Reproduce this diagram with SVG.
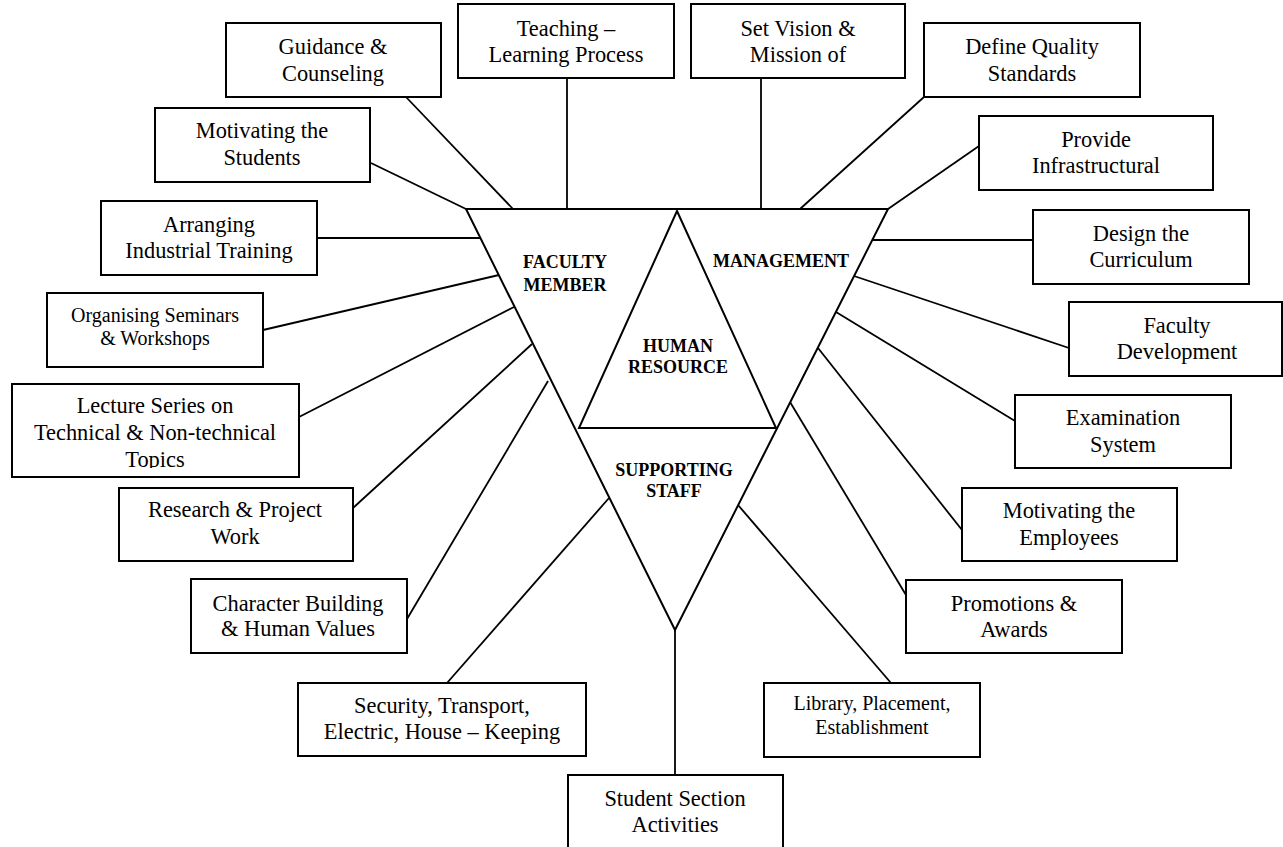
<svg xmlns="http://www.w3.org/2000/svg" width="1283" height="847" viewBox="0 0 1283 847">
<style>
.box{fill:#fff;stroke:#000;stroke-width:2}
.t{font-family:"Liberation Serif","Times New Roman",serif;font-size:22.4px;fill:#000;text-anchor:middle}
.s{font-size:20px}
.b{font-family:"Liberation Serif","Times New Roman",serif;font-size:18px;font-weight:bold;fill:#000;text-anchor:middle}
.ln{stroke:#000;stroke-width:1.8;fill:none}
.tri{fill:none;stroke:#000;stroke-width:2;stroke-linejoin:miter}
</style>
<defs><clipPath id="lc"><rect x="12" y="384" width="287" height="84"/></clipPath></defs>
<rect width="1283" height="847" fill="#fff"/>
<g id="connectors">
<line class="ln" x1="406" y1="97" x2="513" y2="209"/>
<line class="ln" x1="371" y1="163" x2="466" y2="209"/>
<line class="ln" x1="317" y1="238" x2="480" y2="238"/>
<line class="ln" x1="567" y1="78" x2="567" y2="209"/>
<line class="ln" x1="761" y1="77" x2="761" y2="209"/>
<line class="ln" x1="924" y1="97" x2="800" y2="209"/>
<line class="ln" x1="979" y1="146" x2="888" y2="209"/>
<line class="ln" x1="1033" y1="240" x2="872" y2="240"/>
<line class="ln" x1="1069" y1="348" x2="854" y2="276"/>
<line class="ln" x1="1015" y1="421" x2="836" y2="312"/>
<line class="ln" x1="962" y1="530" x2="818" y2="348"/>
<line class="ln" x1="906" y1="595" x2="790" y2="402"/>
<line class="ln" x1="891" y1="683" x2="738" y2="505"/>
<line class="ln" x1="675" y1="630" x2="675" y2="775"/>
<line class="ln" x1="447" y1="683" x2="609" y2="498"/>
<line class="ln" x1="407" y1="619" x2="548" y2="381"/>
<line class="ln" x1="353" y1="508" x2="532" y2="344"/>
<line class="ln" x1="299" y1="417" x2="514" y2="307"/>
<line class="ln" x1="263" y1="330" x2="499" y2="275"/>
</g>
<g id="hub">
<polygon class="tri" points="466,209 888,209 675,630"/>
<polygon class="tri" points="677,211 776,428 579,428"/>
<text class="b" x="565" y="268">FACULTY</text>
<text class="b" x="565" y="291">MEMBER</text>
<text class="b" x="781" y="267">MANAGEMENT</text>
<text class="b" x="678" y="352">HUMAN</text>
<text class="b" x="678" y="373">RESOURCE</text>
<text class="b" x="674" y="476">SUPPORTING</text>
<text class="b" x="674" y="497">STAFF</text>
</g>
<g id="guidance"><rect class="box" x="226" y="23" width="215" height="74"/><text class="t" x="333" y="54">Guidance &amp;</text><text class="t" x="333" y="81">Counseling</text></g>
<g id="motivating-students"><rect class="box" x="155" y="108" width="215" height="74"/><text class="t" x="262" y="138">Motivating the</text><text class="t" x="262" y="165">Students</text></g>
<g id="arranging"><rect class="box" x="101" y="201" width="216" height="74"/><text class="t" x="209" y="232">Arranging</text><text class="t" x="209" y="258">Industrial Training</text></g>
<g id="organising"><rect class="box" x="47" y="293" width="216" height="74"/><text class="t s" x="155" y="322">Organising Seminars</text><text class="t s" x="155" y="345">&amp; Workshops</text></g>
<g id="lecture"><rect class="box" x="12" y="384" width="287" height="93"/><text class="t" x="155" y="413">Lecture Series on</text><text class="t" x="155" y="440">Technical &amp; Non-technical</text><text class="t" x="155" y="467" clip-path="url(#lc)">Topics</text></g>
<g id="research"><rect class="box" x="119" y="488" width="234" height="73"/><text class="t" x="235" y="517">Research &amp; Project</text><text class="t" x="235" y="544">Work</text></g>
<g id="character"><rect class="box" x="191" y="579" width="216" height="74"/><text class="t" x="298" y="611">Character Building</text><text class="t" x="298" y="636">&amp; Human Values</text></g>
<g id="security"><rect class="box" x="298" y="683" width="288" height="73"/><text class="t" x="442" y="713">Security, Transport,</text><text class="t" x="442" y="739">Electric, House – Keeping</text></g>
<g id="student"><rect class="box" x="568" y="775" width="215" height="80"/><text class="t" x="675" y="806">Student Section</text><text class="t" x="675" y="832">Activities</text></g>
<g id="library"><rect class="box" x="764" y="683" width="216" height="74"/><text class="t s" x="872" y="710">Library, Placement,</text><text class="t s" x="872" y="734">Establishment</text></g>
<g id="teaching"><rect class="box" x="458" y="4" width="216" height="74"/><text class="t" x="566" y="36">Teaching –</text><text class="t" x="566" y="62">Learning Process</text></g>
<g id="vision"><rect class="box" x="691" y="4" width="214" height="74"/><text class="t" x="798" y="36">Set Vision &amp;</text><text class="t" x="798" y="62">Mission of</text></g>
<g id="quality"><rect class="box" x="924" y="23" width="216" height="74"/><text class="t" x="1032" y="54">Define Quality</text><text class="t" x="1032" y="81">Standards</text></g>
<g id="infrastructure"><rect class="box" x="979" y="116" width="234" height="74"/><text class="t" x="1096" y="147">Provide</text><text class="t" x="1096" y="173">Infrastructural</text></g>
<g id="curriculum"><rect class="box" x="1033" y="210" width="216" height="74"/><text class="t" x="1141" y="241">Design the</text><text class="t" x="1141" y="267">Curriculum</text></g>
<g id="faculty-dev"><rect class="box" x="1069" y="302" width="213" height="74"/><text class="t" x="1177" y="333">Faculty</text><text class="t" x="1177" y="359">Development</text></g>
<g id="examination"><rect class="box" x="1015" y="395" width="216" height="73"/><text class="t" x="1123" y="425">Examination</text><text class="t" x="1123" y="452">System</text></g>
<g id="motivating-employees"><rect class="box" x="962" y="488" width="215" height="73"/><text class="t" x="1069" y="518">Motivating the</text><text class="t" x="1069" y="545">Employees</text></g>
<g id="promotions"><rect class="box" x="906" y="580" width="216" height="73"/><text class="t" x="1014" y="611">Promotions &amp;</text><text class="t" x="1014" y="637">Awards</text></g>
</svg>
